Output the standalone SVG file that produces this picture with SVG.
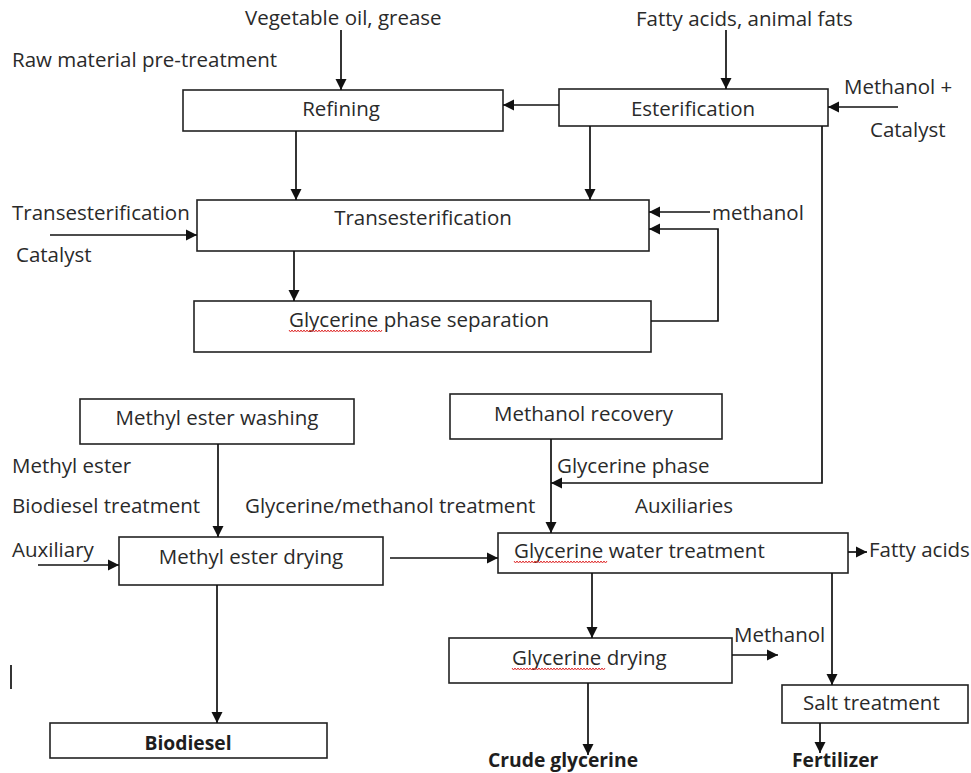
<svg xmlns="http://www.w3.org/2000/svg" width="971" height="773" viewBox="0 0 971 773">
  <style>
    .box { fill: #ffffff; stroke: #222222; stroke-width: 1.6; }
    .lbl { font-family: "Open Sans", "Noto Sans", "DejaVu Sans", sans-serif; font-size: 20.5px; fill: #2a2a2a; }
    .mid { text-anchor: middle; }
    .bold { font-weight: bold; font-size: 19.3px; fill: #1e1e1e; }
    .flow { fill: none; stroke: #111111; stroke-width: 1.7; marker-end: url(#head); }
    .plain { fill: none; stroke: #111111; stroke-width: 1.7; }
    .squig { fill: none; stroke: #e03030; stroke-width: 1; }
  </style>
  <defs>
    <marker id="head" markerUnits="userSpaceOnUse" markerWidth="11" markerHeight="12" refX="11" refY="6" orient="auto">
      <path d="M0,0.5 L11,6 L0,11.5 Z" fill="#111111"/>
    </marker>
    <path id="wave" d="M0,0 l1.5,2 l1.5,-2 l1.5,2 l1.5,-2 l1.5,2 l1.5,-2 l1.5,2 l1.5,-2 l1.5,2 l1.5,-2 l1.5,2 l1.5,-2 l1.5,2 l1.5,-2 l1.5,2 l1.5,-2 l1.5,2 l1.5,-2 l1.5,2 l1.5,-2 l1.5,2 l1.5,-2 l1.5,2 l1.5,-2 l1.5,2 l1.5,-2 l1.5,2 l1.5,-2 l1.5,2 l1.5,-2 l1.5,2 l1.5,-2 l1.5,2 l1.5,-2 l1.5,2 l1.5,-2 l1.5,2 l1.5,-2 l1.5,2 l1.5,-2 l1.5,2 l1.5,-2 l1.5,2 l1.5,-2 l1.5,2 l1.5,-2 l1.5,2 l1.5,-2 l1.5,2 l1.5,-2 l1.5,2 l1.5,-2 l1.5,2 l1.5,-2 l1.5,2 l1.5,-2 l1.5,2 l1.5,-2 l1.5,2 l1.5,-2 l1.5,2 l1.5,-2" class="squig"/>
  </defs>

  <!-- free-standing stream labels -->
  <g id="labels" class="lbl">
    <text x="245" y="25">Vegetable oil, grease</text>
    <text x="12" y="67">Raw material pre-treatment</text>
    <text x="636" y="26">Fatty acids, animal fats</text>
    <text x="844" y="94">Methanol +</text>
    <text x="870" y="137">Catalyst</text>
    <text x="12" y="220">Transesterification</text>
    <text x="16" y="262">Catalyst</text>
    <text x="712" y="220">methanol</text>
    <text x="12" y="473">Methyl ester</text>
    <text x="12" y="513">Biodiesel treatment</text>
    <text x="245" y="513">Glycerine/methanol treatment</text>
    <text x="12" y="557">Auxiliary</text>
    <text x="557" y="473">Glycerine phase</text>
    <text x="635" y="513">Auxiliaries</text>
    <text x="869" y="557">Fatty acids</text>
    <text x="734" y="642">Methanol</text>
    <text class="bold" x="488" y="767">Crude glycerine</text>
    <text class="bold" x="792" y="767">Fertilizer</text>
  </g>

  <!-- process steps -->
  <g id="refining">
    <rect class="box" x="183" y="90" width="320" height="41"/>
    <text class="lbl mid" x="341" y="116">Refining</text>
  </g>
  <g id="esterification">
    <rect class="box" x="559" y="89" width="269" height="37"/>
    <text class="lbl mid" x="693" y="116">Esterification</text>
  </g>
  <g id="transesterification">
    <rect class="box" x="197" y="200" width="452" height="51"/>
    <text class="lbl mid" x="423" y="225">Transesterification</text>
  </g>
  <g id="phase-separation">
    <rect class="box" x="194" y="301" width="457" height="51"/>
    <text class="lbl" x="289" y="327">Glycerine phase separation</text>
    <use href="#wave" x="289" y="330"/>
  </g>
  <g id="ester-washing">
    <rect class="box" x="80" y="399" width="274" height="45"/>
    <text class="lbl mid" x="217" y="425">Methyl ester washing</text>
  </g>
  <g id="methanol-recovery">
    <rect class="box" x="450" y="394" width="272" height="45"/>
    <text class="lbl" x="494" y="421">Methanol recovery</text>
  </g>
  <g id="ester-drying">
    <rect class="box" x="119" y="537" width="264" height="48"/>
    <text class="lbl mid" x="251" y="564">Methyl ester drying</text>
  </g>
  <g id="water-treatment">
    <rect class="box" x="498" y="533" width="350" height="40"/>
    <text class="lbl" x="514" y="558">Glycerine water treatment</text>
    <use href="#wave" x="514" y="561"/>
  </g>
  <g id="glycerine-drying">
    <rect class="box" x="449" y="638" width="283" height="45"/>
    <text class="lbl" x="512" y="665">Glycerine drying</text>
    <use href="#wave" x="512" y="668"/>
  </g>
  <g id="salt-treatment">
    <rect class="box" x="782" y="685" width="186" height="38"/>
    <text class="lbl" x="803" y="710">Salt treatment</text>
  </g>
  <g id="biodiesel">
    <rect class="box" x="50" y="723" width="277" height="35"/>
    <text class="lbl mid bold" x="188" y="750">Biodiesel</text>
  </g>

  <!-- flows -->
  <g id="connectors">
    <path class="flow" d="M341,30 V90"/>
    <path class="flow" d="M726,30 V89"/>
    <path class="flow" d="M898,107 H828"/>
    <path class="flow" d="M559,105 H503"/>
    <path class="flow" d="M296,131 V200"/>
    <path class="flow" d="M590,126 V200"/>
    <path class="flow" d="M822,126 V483 H551"/>
    <path class="flow" d="M50,235 H197"/>
    <path class="flow" d="M710,212 H649"/>
    <path class="flow" d="M651,321 H718 V229 H649"/>
    <path class="flow" d="M294,251 V301"/>
    <path class="flow" d="M218,444 V537"/>
    <path class="flow" d="M38,565 H119"/>
    <path class="flow" d="M390,558 H498"/>
    <path class="flow" d="M551,439 V533"/>
    <path class="flow" d="M848,552 H867"/>
    <path class="flow" d="M592,573 V638"/>
    <path class="flow" d="M832,573 V685"/>
    <path class="flow" d="M732,655 H778"/>
    <path class="flow" d="M588,683 V755"/>
    <path class="flow" d="M820,723 V753"/>
    <path class="flow" d="M217,585 V723"/>
  </g>

  <!-- lone vertical stroke at the left margin -->
  <path class="plain" d="M11,665 V689" stroke-width="1.3"/>
</svg>
